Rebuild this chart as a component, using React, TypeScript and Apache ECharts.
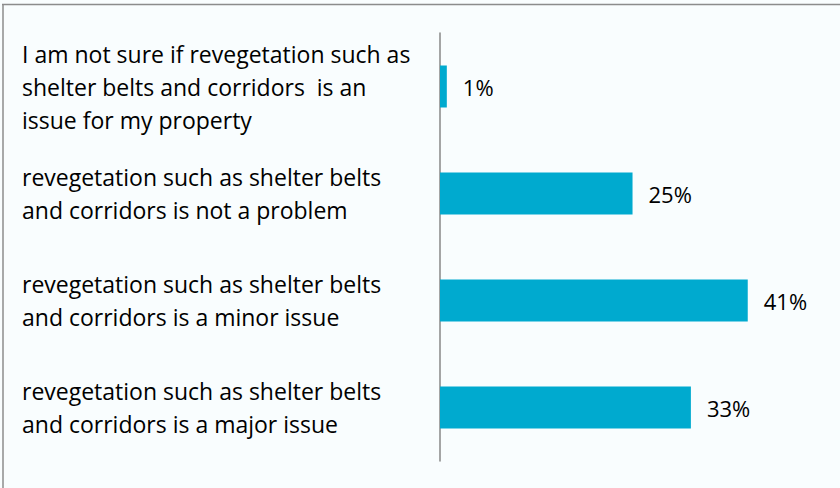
import React, { useEffect, useRef } from "react";
import * as echarts from "echarts";

const categories: string[] = [
  "I am not sure if revegetation such as\nshelter belts and corridors  is an\nissue for my property",
  "revegetation such as shelter belts\nand corridors is not a problem",
  "revegetation such as shelter belts\nand corridors is a minor issue",
  "revegetation such as shelter belts\nand corridors is a major issue",
];
const values: number[] = [0.9, 25.4, 40.6, 33.1];
const xMin = 0;
const xMax = 50;

export default function App() {
  const ref = useRef<HTMLDivElement>(null);
  useEffect(() => {
    if (!ref.current) return;
    const chart = echarts.init(ref.current, null, { renderer: "svg" });
    const font = "'Open Sans', 'Liberation Sans', sans-serif";
    chart.setOption({
      animation: false,
      backgroundColor: "#F9FDFE",
      textStyle: { fontFamily: font },
      graphic: [
        { type: "line", shape: { x1: 2, y1: 4.5, x2: 840, y2: 4.5 }, style: { stroke: "#8C8C8C", lineWidth: 1.5 } },
        { type: "line", shape: { x1: 3, y1: 4, x2: 3, y2: 488 }, style: { stroke: "#8C8C8C", lineWidth: 1.5 } },
      ],
      grid: { left: 440, right: 21, top: 33, bottom: 27, containLabel: false },
      xAxis: {
        type: "value",
        min: xMin,
        max: xMax,
        show: false,
      },
      yAxis: {
        type: "category",
        data: categories,
        inverse: true,
        axisLine: { show: true, lineStyle: { color: "#878787", width: 1.5 } },
        axisTick: { show: false },
        axisLabel: {
          align: "left",
          margin: 418,
          fontSize: 23,
          lineHeight: 33,
          color: "#000000",
          fontFamily: font,
        },
      },
      series: [
        {
          type: "bar",
          data: values,
          barWidth: 42,
          itemStyle: { color: "#00AACF" },
          label: {
            show: true,
            position: "right",
            distance: 16,
            fontSize: 22,
            color: "#000000",
            fontFamily: font,
            formatter: (p: any) => Math.round(p.value) + "%",
          },
        },
      ],
    });
    return () => chart.dispose();
  }, []);
  return (
    <div
      ref={ref}
      style={{ position: "fixed", left: 0, top: 0, width: 840, height: 488 }}
    />
  );
}
